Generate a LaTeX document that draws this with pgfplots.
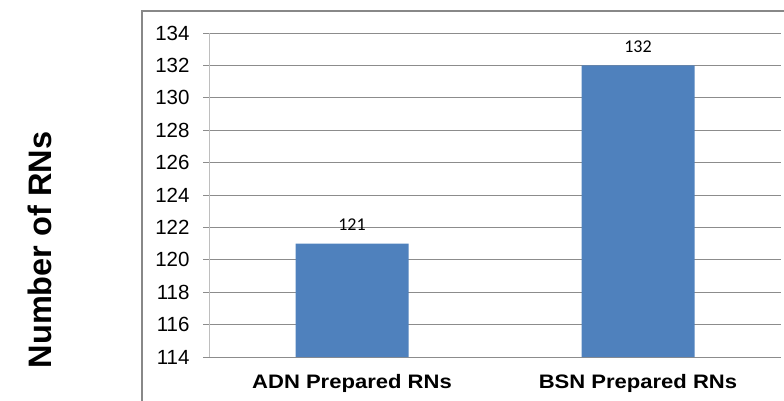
\documentclass[border=0pt]{standalone}
\usepackage{fontspec}
\setmainfont{Liberation Sans}
\newfontfamily\calfont{Carlito}
\usepackage{graphicx}
\usepackage{pgfplots}
\pgfplotsset{compat=1.18}
\definecolor{barblue}{HTML}{4F81BD}
\definecolor{gridgray}{HTML}{8C8C8C}
\definecolor{axgray}{HTML}{BEBEBE}
\definecolor{framegray}{HTML}{888888}
\begin{document}
\begin{tikzpicture}[x=1pt,y=1pt]
\useasboundingbox (0,0) rectangle (784,400);
\draw[framegray, line width=1.3pt] (142,-5) rectangle (790,389);
\begin{axis}[
  at={(209pt,43pt)}, anchor=south west,
  scale only axis, width=572pt, height=324pt,
  xmin=-0.5, xmax=1.5, ymin=114, ymax=134,
  ytick={114,116,...,134},
  xtick={0,1}, xticklabels={\scalebox{1.13}[1]{ADN Prepared RNs}, \scalebox{1.13}[1]{BSN Prepared RNs}},
  axis x line*=bottom, axis y line*=left,
  x axis line style={draw=gridgray, line width=0.8pt, -},
  y axis line style={draw=axgray, line width=1pt, -},
  ymajorgrids, major grid style={draw=gridgray, line width=0.8pt},
  ytick style={draw=gridgray, line width=0.8pt},
  xtick style={draw=none},
  tick align=outside, major tick length=6pt,
  /pgf/number format/assume math mode=true,
  yticklabel style={font=\fontsize{20.5}{24}\selectfont, text=black, xshift=-10pt},
  xticklabel style={font=\bfseries\fontsize{19.5}{23}\selectfont, text=black, yshift=-8pt},
  ybar, bar width=113pt,
  nodes near coords,
  every node near coord/.append style={font=\calfont\fontsize{18}{21}\selectfont, text=black, anchor=center, yshift=19pt},
  clip=true,
]
\addplot[fill=barblue, draw=none] coordinates {(0,121) (1,132)};
\end{axis}
\node[rotate=90, font=\bfseries\fontsize{32.5}{36}\selectfont] at (40,150) {Number of RNs};
\end{tikzpicture}
\end{document}
